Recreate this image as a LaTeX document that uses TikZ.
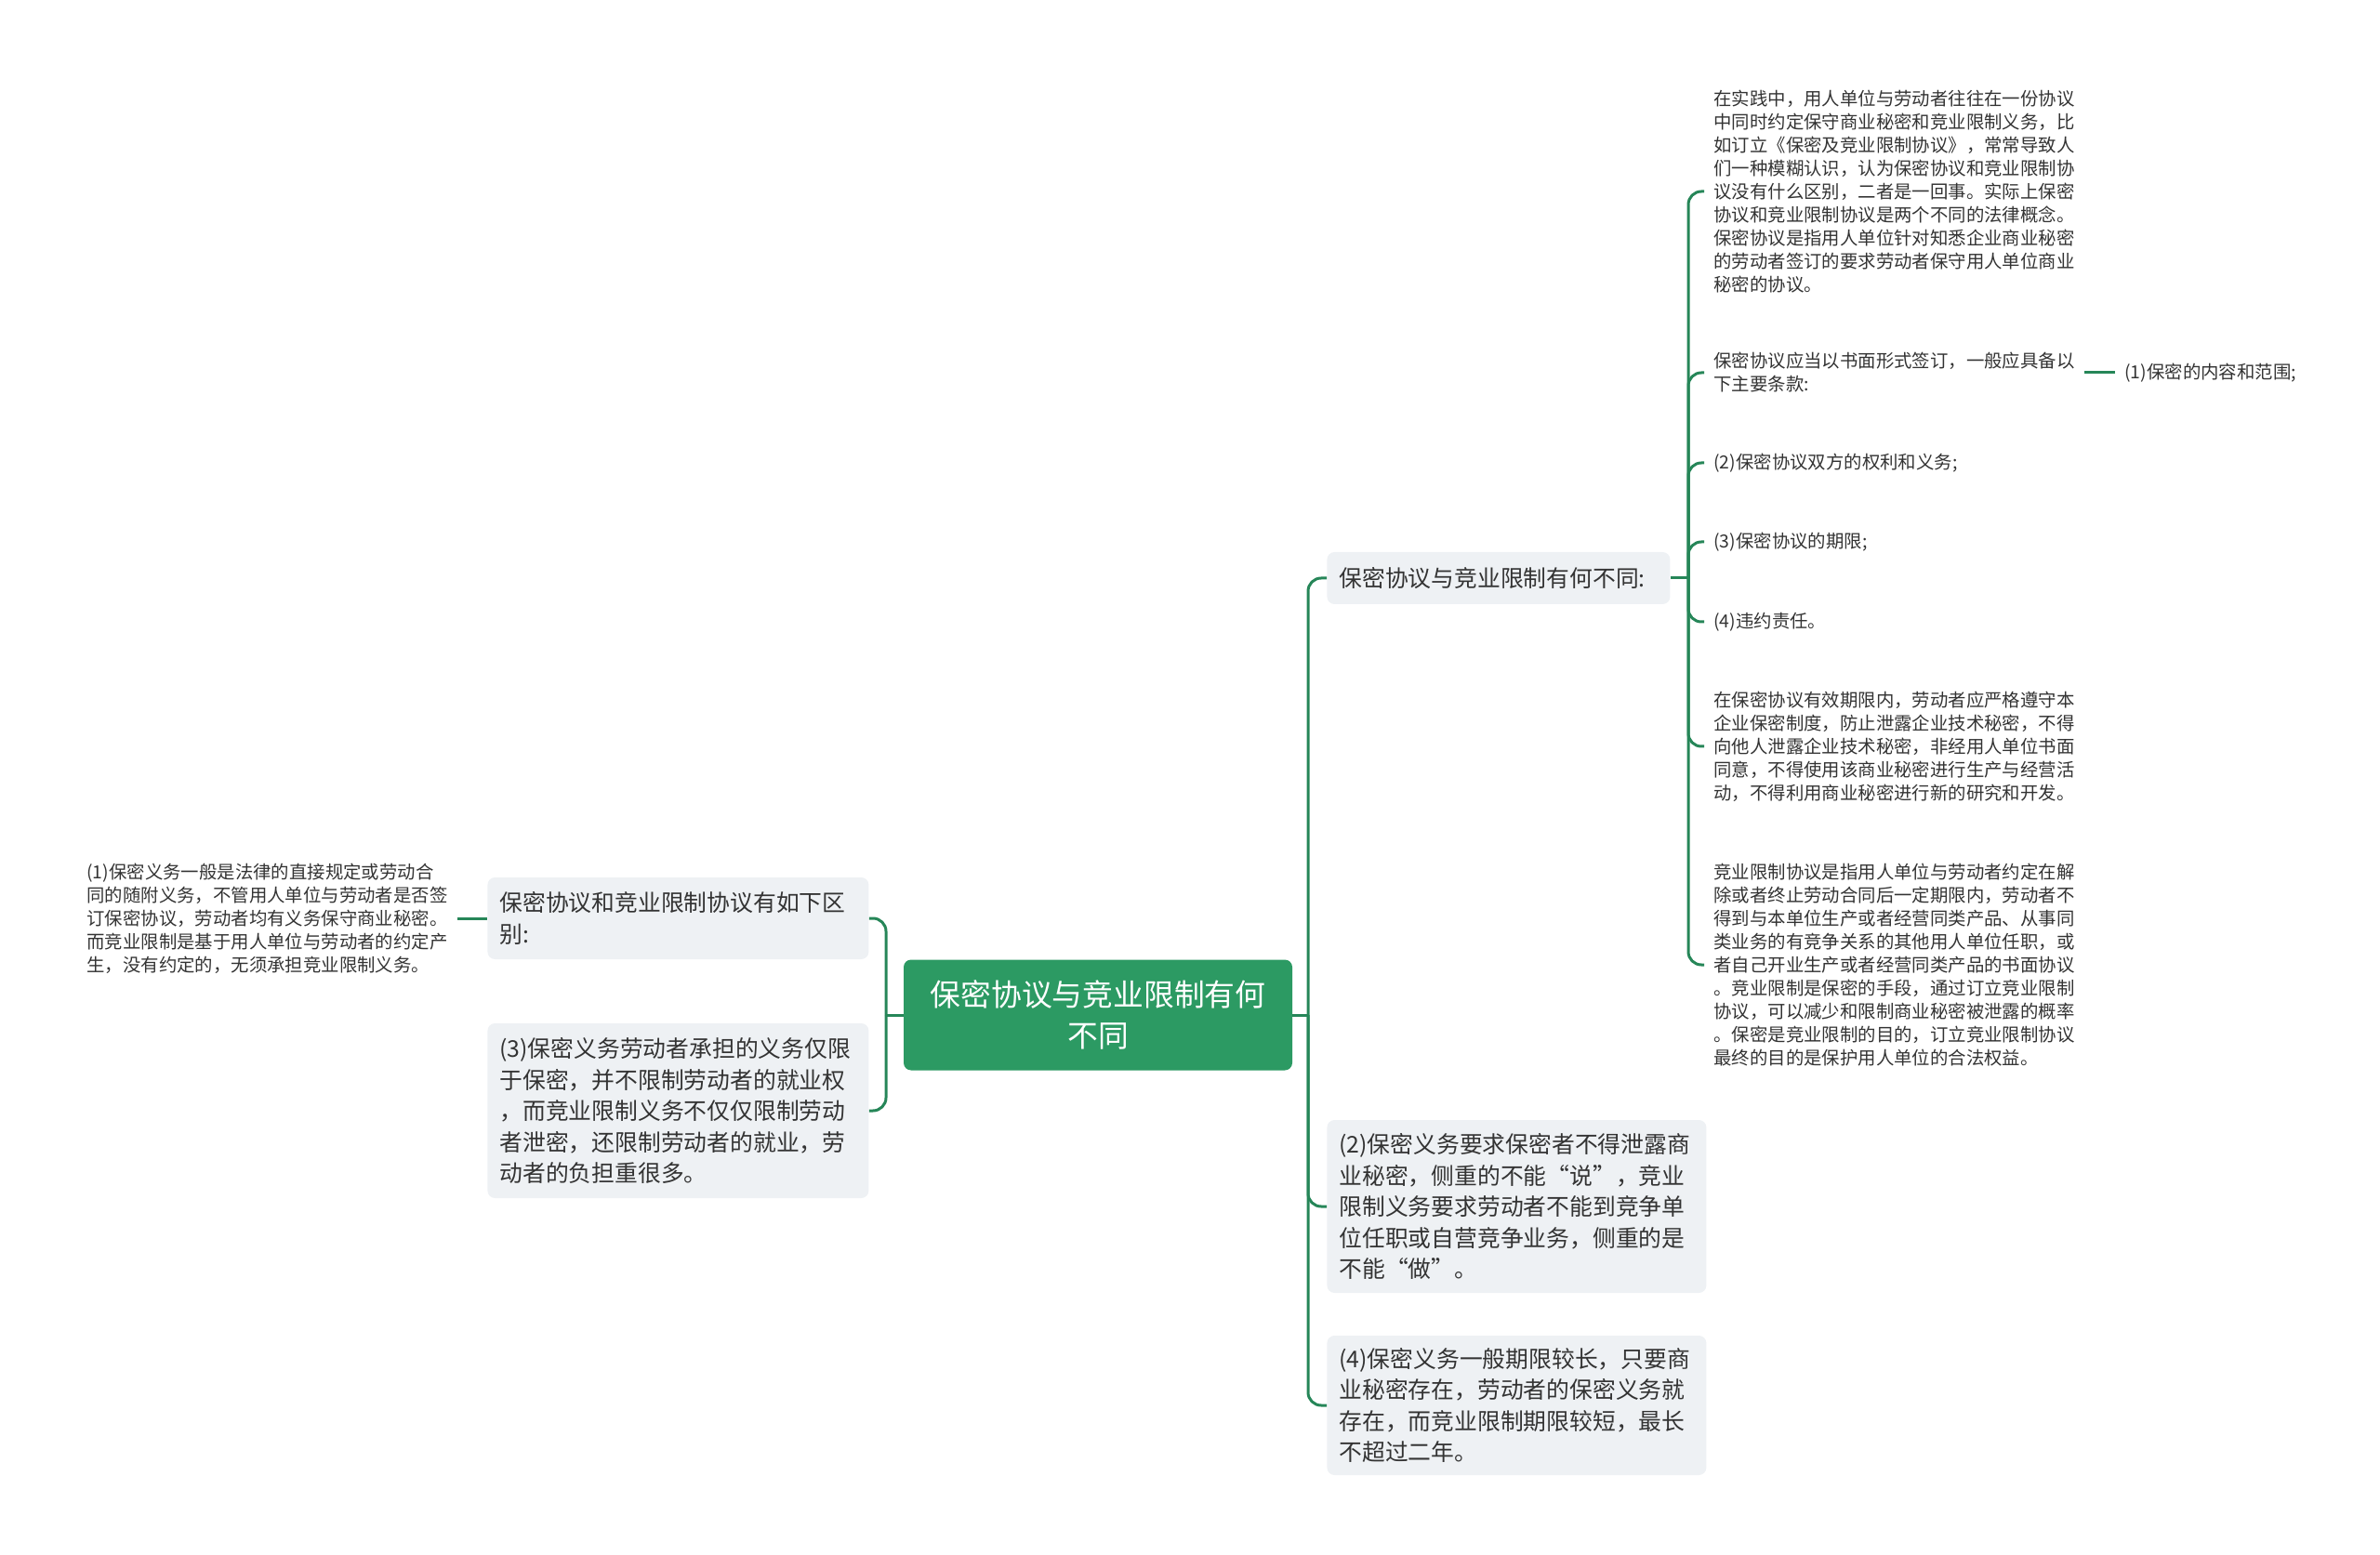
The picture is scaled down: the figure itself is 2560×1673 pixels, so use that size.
\documentclass[tikz,border=0pt]{standalone}
\usepackage{fontspec}
\setmainfont{Noto Sans CJK SC}
\usepackage{xcolor}

\definecolor{rootgreen}{RGB}{44,154,99}
\definecolor{linegreen}{RGB}{38,134,88}
\definecolor{boxgray}{RGB}{238,241,244}
\definecolor{txtgray}{RGB}{51,51,51}

\begin{document}
\begin{tikzpicture}[x=0.5pt,y=-0.5pt,
  rootbox/.style={fill=rootgreen,rounded corners=4pt,text=white,align=center,
    minimum width=209pt,minimum height=59.5pt,font=\fontsize{16.4}{22}\selectfont},
  subbox/.style={fill=boxgray,rounded corners=4pt,text=txtgray,align=left,anchor=west,
    inner xsep=6.5pt,font=\fontsize{12.4}{16.75}\selectfont},
  leaf/.style={text=txtgray,align=left,anchor=west,inner xsep=5pt,inner ysep=2pt,
    font=\fontsize{9.7}{12.5}\selectfont},
  link/.style={draw=linegreen,line width=1.5pt,rounded corners=7pt}]
\useasboundingbox (0,0) rectangle (2560,1673);

 % root
 \node[rootbox] (root) at (1181,1092) {保密协议与竞业限制有何\\不同};

 % left side
 \node[subbox,text width=192pt,minimum height=44pt] (diff) at (524,988)
   {保密协议和竞业限制协议有如下区\\别:};
 \node[subbox,text width=192pt,minimum height=94pt] (d3) at (524,1195)
   {(3)保密义务劳动者承担的义务仅限\\于保密，并不限制劳动者的就业权\\，而竞业限制义务不仅仅限制劳动\\者泄密，还限制劳动者的就业，劳\\动者的负担重很多。};
 \node[leaf] (d1) at (83,988)
   {(1)保密义务一般是法律的直接规定或劳动合\\同的随附义务，不管用人单位与劳动者是否签\\订保密协议，劳动者均有义务保守商业秘密。\\而竞业限制是基于用人单位与劳动者的约定产\\生，没有约定的，无须承担竞业限制义务。};

 % right side
 \node[subbox,text width=171.5pt,minimum height=28pt] (q) at (1427,622)
   {保密协议与竞业限制有何不同:};
 \node[subbox,text width=191pt,minimum height=93pt] (d2) at (1427,1298)
   {(2)保密义务要求保密者不得泄露商\\业秘密，侧重的不能“说”，竞业\\限制义务要求劳动者不能到竞争单\\位任职或自营竞争业务，侧重的是\\不能“做”。};
 \node[subbox,text width=191pt,minimum height=75pt] (d4) at (1427,1512)
   {(4)保密义务一般期限较长，只要商\\业秘密存在，劳动者的保密义务就\\存在，而竞业限制期限较短，最长\\不超过二年。};

 % leaves of q
 \node[leaf] (ta) at (1833,206)
   {在实践中，用人单位与劳动者往往在一份协议\\中同时约定保守商业秘密和竞业限制义务，比\\如订立《保密及竞业限制协议》，常常导致人\\们一种模糊认识，认为保密协议和竞业限制协\\议没有什么区别，二者是一回事。实际上保密\\协议和竞业限制协议是两个不同的法律概念。\\保密协议是指用人单位针对知悉企业商业秘密\\的劳动者签订的要求劳动者保守用人单位商业\\秘密的协议。};
 \node[leaf] (tb) at (1833,401)
   {保密协议应当以书面形式签订，一般应具备以\\下主要条款:};
 \node[leaf] (tb1) at (2275,401) {(1)保密的内容和范围;};
 \node[leaf] (tc) at (1833,498) {(2)保密协议双方的权利和义务;};
 \node[leaf] (td) at (1833,583) {(3)保密协议的期限;};
 \node[leaf] (te) at (1833,669) {(4)违约责任。};
 \node[leaf] (tf) at (1833,803)
   {在保密协议有效期限内，劳动者应严格遵守本\\企业保密制度，防止泄露企业技术秘密，不得\\向他人泄露企业技术秘密，非经用人单位书面\\同意，不得使用该商业秘密进行生产与经营活\\动，不得利用商业秘密进行新的研究和开发。};
 \node[leaf] (tg) at (1833,1038)
   {竞业限制协议是指用人单位与劳动者约定在解\\除或者终止劳动合同后一定期限内，劳动者不\\得到与本单位生产或者经营同类产品、从事同\\类业务的有竞争关系的其他用人单位任职，或\\者自己开业生产或者经营同类产品的书面协议\\。竞业限制是保密的手段，通过订立竞业限制\\协议，可以减少和限制商业秘密被泄露的概率\\。保密是竞业限制的目的，订立竞业限制协议\\最终的目的是保护用人单位的合法权益。};

 % connectors
 \coordinate (lj) at (953,1092);
 \coordinate (rj) at (1407,1092);
 \coordinate (qj) at (1816,622);
 \draw[link] (root.west) -- (lj);
 \draw[link] (lj) |- (diff.east);
 \draw[link] (lj) |- (d3.east);
 \draw[link] (d1.east) -- (diff.west);
 \draw[link] (root.east) -- (rj);
 \draw[link] (rj) |- (q.west);
 \draw[link] (rj) |- (d2.west);
 \draw[link] (rj) |- (d4.west);
 \draw[link] (q.east) -- (qj);
 \foreach \t in {ta,tb,tc,td,te,tf,tg}
   \draw[link] (qj) |- (\t.west);
 \draw[link] (tb.east) -- (tb1.west);
\end{tikzpicture}
\end{document}
